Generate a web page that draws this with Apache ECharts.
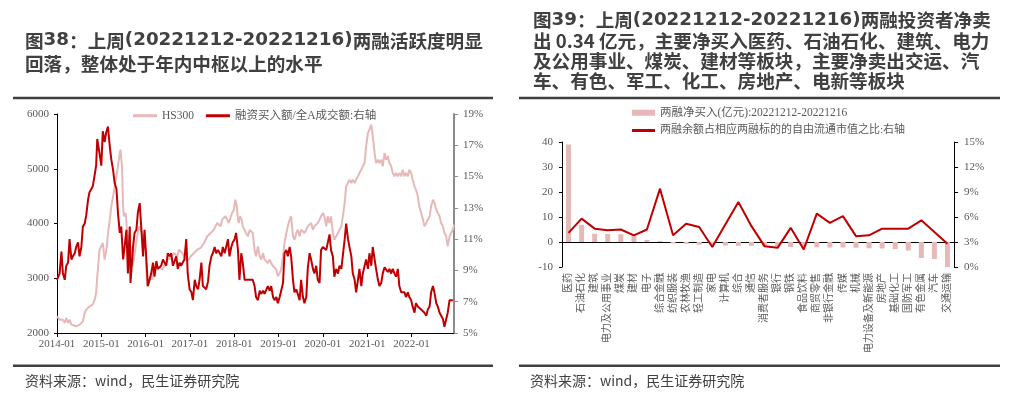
<!DOCTYPE html>
<html><head><meta charset="utf-8">
<script src="https://cdn.jsdelivr.net/npm/echarts/dist/echarts.min.js"></script>
<style>html,body{margin:0;padding:0;background:#fff}#c{width:1010px;height:395px}</style>
</head><body><div id="c"></div>
<script>
// ---------- Figure 38 data (months since 2014-01) ----------
const hsMonths = [0,0.7,1.6,2.1,2.5,3.0,3.4,3.9,4.3,5.2,6.1,7.0,7.5,7.9,8.4,8.8,9.3,9.7,10.2,10.6,10.9,11.3,11.5,12.0,12.4,12.9,13.2,13.5,13.8,14.3,14.7,15.2,15.6,16.1,16.5,17.0,17.2,17.6,17.9,18.1,18.6,19.0,19.5,19.9,20.4,20.8,21.3,21.7,22.2,22.6,23.1,23.5,24.0,24.4,24.9,25.3,25.8,26.2,26.7,27.2,27.6,28.1,28.5,29.0,29.4,29.9,30.3,30.8,31.2,31.7,32.1,32.6,33.0,33.5,33.9,34.4,34.8,35.3,35.7,36.2,36.6,37.1,37.5,38.0,38.4,38.9,39.3,39.8,40.2,40.7,41.1,41.6,42.0,42.5,42.9,43.4,43.8,44.3,44.7,45.2,45.6,46.1,46.5,47.0,47.4,47.9,48.3,48.7,49.0,49.2,49.6,50.0,50.3,50.8,51.2,51.7,
52.2,53.0,53.5,53.9,54.4,54.9,55.3,55.8,56.2,56.7,57.1,57.6,58.0,58.5,58.9,59.4,59.8,60.3,60.7,61.2,61.6,62.1,62.5,63.0,63.4,63.9,64.3,64.8,65.2,65.7,66.1,66.6,67.0,67.5,67.9,68.4,68.8,69.3,69.7,70.2,70.6,71.1,71.5,72.0,72.4,72.9,73.3,73.8,74.2,74.7,75.1,75.6,76.1,76.5,77.0,77.4,77.9,78.3,78.8,79.2,79.7,80.1,80.6,81.0,81.5,81.9,82.4,82.8,83.3,83.7,84.2,84.6,85.1,85.5,86.0,86.4,86.9,87.3,87.8,88.2,88.7,89.1,89.6,90.0,90.5,90.9,91.4,91.8,92.3,92.7,93.2,93.6,94.1,94.5,95.0,95.4,95.9,96.3,96.8,97.2,97.7,98.1,98.6,99.1,99.5,100.0,100.4,100.9,101.3,101.8,102.2,102.7,103.1,103.6,104.0,104.5,104.9,105.4,105.8,106.3,106.7,107.2,107.5];
const hsValues = [2305,2244,2244,2183,2274,2183,2244,2152,2122,2122,2152,2213,2365,2426,2457,2487,2487,2518,2609,2731,3035,3340,3522,3583,3644,3340,3461,3583,3827,4070,4314,4496,4679,4862,5044,5288,5349,5044,4314,4131,4192,3827,3461,3583,3218,3340,3583,3766,3948,3887,3827,3705,3522,2853,2913,3035,2974,3218,3218,3157,3218,3218,3157,3218,3279,3340,3340,3370,3400,3461,3461,3400,3522,3492,3461,3400,3340,3340,3340,3400,3400,3461,3461,3522,3522,3553,3522,3644,3644,3766,3766,3827,3827,3887,3948,4009,4009,3948,4070,4070,4131,4070,4009,4009,4192,4253,4435,4314,4070,4009,4131,4070,3948,3948,3827,3766,
3880,3827,3522,3400,3583,3400,3340,3461,3340,3340,3279,3340,3279,3218,3218,3157,3035,3096,3157,3400,3644,3827,3948,4070,4131,3766,3705,3827,3887,3766,3887,3887,3827,3887,3948,3948,4009,3887,3948,3948,4009,4070,4131,4192,4131,3948,4131,4009,4131,3827,3705,3766,3827,3887,3948,4131,4375,4679,4740,4801,4740,4801,4740,4801,4862,4922,4983,5044,5105,5409,5653,5714,5805,5592,5288,5105,5166,5105,5166,5044,5288,5166,5227,5105,5044,4922,4862,4922,4862,4922,4862,4983,4862,4922,4862,4983,4922,4801,4679,4618,4496,4314,4192,4070,3948,4009,4070,4131,4314,4435,4375,4253,4192,4131,4009,3948,3827,3766,3583,3766,3827,3887,3979];
const ratioMonths = [0,0.7,1.2,1.6,2.1,2.5,3.0,3.4,3.9,4.3,4.8,5.2,5.7,6.1,6.6,7.0,7.5,7.9,8.4,8.8,9.3,9.7,10.2,10.6,10.9,11.5,12.0,12.4,12.9,13.3,13.8,14.3,14.7,15.2,15.6,16.1,16.5,17.0,17.4,17.9,18.3,18.8,19.2,19.7,19.9,20.6,21.0,21.5,21.9,22.4,22.8,23.3,23.7,24.2,24.6,25.1,25.5,26.0,26.4,26.9,27.3,27.8,28.2,28.7,29.1,29.6,30.0,30.5,30.9,31.4,31.8,32.3,32.7,33.2,33.6,34.1,34.5,35.0,35.4,35.9,36.4,36.8,37.3,37.7,38.2,38.6,39.1,39.5,40.0,40.4,40.9,41.3,41.8,42.2,42.7,43.1,43.6,44.0,44.5,44.9,45.4,45.8,46.3,46.7,47.2,47.6,48.1,48.5,49.0,49.4,49.9,50.3,50.8,51.2,51.7,
52.2,53.0,53.5,53.9,54.4,54.9,55.3,55.8,56.2,56.7,57.1,57.6,58.0,58.5,58.9,59.4,59.8,60.3,60.7,61.2,61.6,62.1,62.5,63.0,63.4,63.9,64.3,64.8,65.2,65.7,66.1,66.6,67.0,67.5,67.9,68.4,68.8,69.3,69.7,70.2,70.6,71.1,71.5,72.0,72.4,72.9,73.3,73.8,74.2,74.7,75.1,75.6,76.1,76.5,77.0,77.4,77.9,78.3,78.8,79.2,79.7,80.1,80.6,81.0,81.5,81.9,82.4,82.8,83.3,83.7,84.2,84.6,85.1,85.5,86.0,86.4,86.9,87.3,87.8,88.2,88.7,89.1,89.6,90.0,90.5,90.9,91.4,91.8,92.3,92.7,93.2,93.6,94.1,94.5,95.0,95.4,95.9,96.3,96.8,97.2,97.7,98.1,98.6,99.1,99.5,100.0,100.4,100.9,101.3,101.8,102.2,102.7,103.1,103.6,104.0,104.5,104.9,105.4,105.8,106.3,106.7,107.2];
const ratioValues = [8.4,8.8,10.2,8.8,8.4,9.3,9.5,11.0,9.7,9.9,10.1,10.5,10.8,9.9,10.5,11.8,12.0,12.5,13.5,14.0,14.2,14.4,15.1,15.7,17.4,16.5,15.7,17.9,17.2,17.8,18.2,16.9,16.1,15.4,14.6,14.2,12.7,11.4,11.8,9.7,10.5,11.6,8.8,11.8,8.2,10.5,11.4,11.6,12.7,13.3,11.8,9.9,11.6,9.7,8.0,8.0,8.8,9.5,8.6,9.6,9.1,9.1,9.3,9.7,9.5,9.3,10.1,9.9,10.1,9.3,9.4,9.9,9.1,9.5,9.3,9.3,9.7,11.0,8.8,7.8,7.6,7.1,8.4,8.0,7.8,8.4,9.5,8.0,8.0,7.8,8.3,9.3,9.9,10.1,10.5,10.1,10.3,10.3,9.9,10.5,10.1,10.5,11.0,9.9,10.5,10.8,11.0,11.4,10.3,8.4,10.1,9.5,8.4,8.4,8.4,
8.5,8.4,8.0,7.3,7.1,7.7,7.5,7.7,7.5,7.6,8.0,7.7,8.0,7.3,7.1,7.3,6.9,7.3,7.2,8.2,10.1,10.3,9.9,10.5,9.9,8.4,7.6,7.8,7.8,7.1,8.4,7.3,6.9,7.3,9.1,10.1,9.7,9.1,8.8,9.3,8.4,8.2,10.3,10.5,10.5,10.3,10.3,11.3,10.3,9.9,8.6,9.1,8.8,9.3,9.1,9.1,11.0,12.0,11.0,10.5,9.9,8.8,8.4,7.6,8.4,9.1,8.0,8.8,9.3,9.7,9.1,10.1,9.3,10.5,9.7,9.1,8.4,8.0,8.2,8.8,9.2,9.2,8.9,9.1,8.8,9.1,8.8,8.6,9.1,8.0,7.6,7.6,7.6,7.3,7.6,7.3,7.1,6.7,6.3,6.9,6.7,6.7,6.5,6.5,6.3,6.1,6.5,6.7,7.6,8.0,7.6,6.9,6.7,6.3,6.3,5.9,5.4,5.9,6.3,7.1,7.2,7.1];
const leftYTicks = [2000, 6000, 1000];   // min, max, step
const rightYTicks = [5, 19, 2];

// ---------- Figure 39 data ----------
const industries = ['医药','石油石化','建筑','电力及公用事业','煤炭','建材','电子','综合金融','纺织服装','农林牧渔','轻工制造','家电','计算机','综合','通信','消费者服务','银行','钢铁','食品饮料','商贸零售','非银行金融','传媒','机械','电力设备及新能源','房地产','基础化工','国防军工','有色金属','汽车','交通运输'];
const netBuy = [39.0,6.9,3.3,3.2,3.1,2.6,0.8,0.4,-0.6,-0.7,-1.1,-1.2,-1.4,-1.5,-1.5,-1.8,-1.8,-2.0,-2.0,-2.1,-2.2,-2.2,-2.3,-2.5,-2.6,-2.8,-3.4,-6.4,-6.8,-10.3];
const marginShare = [4.1,5.8,4.6,4.4,4.5,3.8,4.5,9.4,3.8,5.2,4.8,2.4,5.1,7.8,4.9,2.5,2.3,4.7,2.1,6.4,5.3,6.1,3.7,3.8,4.6,4.6,4.6,5.6,4.2,2.8];

const title38 = '图{d|38}：上周{d|(20221212-20221216)}两融活跃度明显\n回落，整体处于年内中枢以上的水平';
const title39 = '图{d|39}：上周{d|(20221212-20221216)}两融投资者净卖\n出 0.34 亿元，主要净买入医药、石油石化、建筑、电力\n及公用事业、煤炭、建材等板块，主要净卖出交运、汽\n车、有色、军工、化工、房地产、电新等板块';
const sourceText = '资料来源：wind，民生证券研究院';
const nameHS = 'HS300', nameRatio = '融资买入额/全A成交额:右轴';
const nameNet = '两融净买入(亿元):20221212-20221216', nameShare = '两融余额占相应两融标的的自由流通市值之比:右轴';

const serif = '"Liberation Serif","Times New Roman","Noto Sans CJK SC",serif';
const titleFont = '"Noto Sans CJK SC","Microsoft YaHei",sans-serif';
const pink = '#E6B9B8', red = '#C00000', txt = '#595959', dark = '#404040';

const chart = echarts.init(document.getElementById('c'), null, {renderer: 'canvas'});
const lbl = (extra) => Object.assign({color: txt, fontFamily: serif, fontSize: 11}, extra || {});
const titleStyle = (lh) => ({fontSize: 18.6, fontWeight: 'bold', color: dark, fontFamily: titleFont, lineHeight: lh,
  rich: {d: {fontSize: 18.3, fontWeight: 'bold', color: dark, fontFamily: '"DejaVu Sans",sans-serif', lineHeight: lh}}});

chart.setOption({
  animation: false,
  backgroundColor: '#fff',
  title: [
    {text: title38, left: 25, top: 29, padding: 0, textStyle: titleStyle(23)},
    {text: title39, left: 533, top: 10, padding: 0, textStyle: titleStyle(20.3)}
  ],
  legend: [
    {data: [nameHS, nameRatio], left: 133, top: 110, itemWidth: 24, itemHeight: 3, itemGap: 12, icon: 'rect', padding: 0,
     textStyle: {color: txt, fontFamily: serif, fontSize: 11.5}},
    {data: [nameNet], left: 632, top: 107, itemWidth: 23, itemHeight: 6, icon: 'rect', padding: 0,
     textStyle: {color: txt, fontFamily: serif, fontSize: 11.5}},
    {data: [nameShare], left: 632, top: 125, itemWidth: 23, itemHeight: 3, icon: 'rect', padding: 0,
     textStyle: {color: txt, fontFamily: serif, fontSize: 11}}
  ],
  grid: [
    {left: 57, top: 114, width: 397, height: 219},
    {left: 562, top: 142, width: 392, height: 125}
  ],
  xAxis: [
    {gridIndex: 0, type: 'value', min: 0, max: 107.5, interval: 12,
     axisLine: {onZero: false, lineStyle: {color: '#000', width: 1}},
     axisTick: {length: 4, lineStyle: {color: '#000'}},
     axisLabel: lbl({margin: 6, showMaxLabel: false, formatter: v => (v % 12 === 0 ? (2014 + v / 12) + '-01' : '')}),
     splitLine: {show: false}},
    {gridIndex: 1, type: 'category', data: industries, position: 'bottom',
     axisLine: {show: false, onZero: false}, axisTick: {show: false},
     axisLabel: lbl({rotate: 90, interval: 0, margin: 6, fontSize: 10})},
    {gridIndex: 1, type: 'category', data: industries, position: 'top',
     axisLine: {onZero: true, onZeroAxisIndex: 2, lineStyle: {color: '#000'}},
     axisTick: {length: 4, lineStyle: {color: '#000'}}, axisLabel: {show: false}}
  ],
  yAxis: [
    {gridIndex: 0, type: 'value', position: 'left', min: leftYTicks[0], max: leftYTicks[1], interval: leftYTicks[2],
     axisLine: {show: true, onZero: false, lineStyle: {color: '#000'}}, axisTick: {show: true, length: 3, lineStyle: {color: '#000'}},
     axisLabel: lbl({margin: 8, formatter: v => String(v)}), splitLine: {show: false}},
    {gridIndex: 0, type: 'value', position: 'right', min: rightYTicks[0], max: rightYTicks[1], interval: rightYTicks[2],
     axisLine: {show: true, onZero: false, lineStyle: {color: '#8c8c8c', width: 2}}, axisTick: {show: true, length: 4, lineStyle: {color: '#8c8c8c'}},
     axisLabel: lbl({margin: 9, formatter: '{value}%'}), splitLine: {show: false}},
    {gridIndex: 1, type: 'value', position: 'left', min: -10, max: 40, interval: 10,
     axisLine: {show: true, onZero: false, lineStyle: {color: '#000'}}, axisTick: {show: true, length: 3, lineStyle: {color: '#000'}},
     axisLabel: lbl({margin: 9}), splitLine: {show: false}},
    {gridIndex: 1, type: 'value', position: 'right', min: 0, max: 15, interval: 3,
     axisLine: {show: true, onZero: false, lineStyle: {color: '#000'}}, axisTick: {show: true, length: 4, lineStyle: {color: '#000'}},
     axisLabel: lbl({margin: 10, formatter: '{value}%'}), splitLine: {show: false}}
  ],
  series: [
    {name: nameHS, type: 'line', xAxisIndex: 0, yAxisIndex: 0, showSymbol: false, symbol: 'none',
     data: hsMonths.map((m, i) => [m, hsValues[i]]), lineStyle: {color: pink, width: 2}, itemStyle: {color: pink}},
    {name: nameRatio, type: 'line', xAxisIndex: 0, yAxisIndex: 1, showSymbol: false, symbol: 'none',
     data: ratioMonths.map((m, i) => [m, ratioValues[i]]), lineStyle: {color: red, width: 2}, itemStyle: {color: red}},
    {name: nameNet, type: 'bar', xAxisIndex: 1, yAxisIndex: 2, data: netBuy, barWidth: 5, itemStyle: {color: pink}},
    {name: nameShare, type: 'line', xAxisIndex: 1, yAxisIndex: 3, data: marginShare, symbol: 'none',
     lineStyle: {color: red, width: 2}, itemStyle: {color: red}}
  ],
  graphic: [
    {type: 'rect', shape: {x: 13, y: 96.7, width: 480, height: 2.6}, style: {fill: dark}},
    {type: 'rect', shape: {x: 13, y: 364.5, width: 480, height: 2.6}, style: {fill: dark}},
    {type: 'rect', shape: {x: 519, y: 96.7, width: 481, height: 2.6}, style: {fill: dark}},
    {type: 'rect', shape: {x: 519, y: 364.5, width: 481, height: 2.6}, style: {fill: dark}},
    {type: 'text', x: 25, y: 374, style: {text: sourceText, fill: dark, font: '14px "Noto Sans CJK SC", sans-serif'}},
    {type: 'text', x: 530, y: 374, style: {text: sourceText, fill: dark, font: '14px "Noto Sans CJK SC", sans-serif'}}
  ]
});
</script></body></html>
